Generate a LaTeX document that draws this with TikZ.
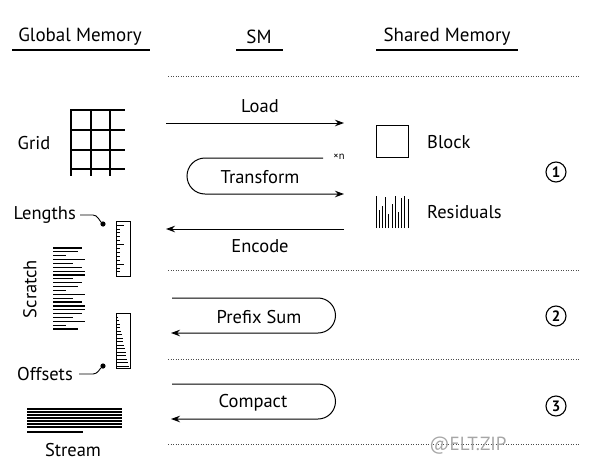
\documentclass[tikz,border=0pt]{standalone}
\usepackage{fontspec}
\setmainfont{PT Sans}
\usetikzlibrary{arrows.meta}
\tikzset{
  lbl/.style={inner sep=0pt, font=\fontsize{18.5}{21}\selectfont},
  hdr/.style={inner sep=0pt, font=\fontsize{19}{22}\selectfont},
  uline/.style={line width=1.3pt},
  flow/.style={line width=1pt, -{Stealth[length=9pt,width=6.5pt]}},
  sep/.style={line width=0.8pt, dash pattern=on 0.8pt off 1.7pt, black!70},
  stepnum/.style={circle, draw, line width=1.1pt, minimum size=20pt, inner sep=0pt, font=\bfseries\fontsize{15}{15}\selectfont},
  bar/.style={line width=1pt},
  tick/.style={line width=0.7pt},
}
\begin{document}
\begin{tikzpicture}[x=1pt,y=-1pt]
\useasboundingbox (0,0) rectangle (595,461);
% headers
\node[hdr] (hgm) at (80,37) {Global Memory};
\node[hdr] (hsm) at (259,37) {SM};
\node[hdr] (hsh) at (447,37) {Shared Memory};
\draw[uline] (12,50) -- (150,50);
\draw[uline] (236,50) -- (283,50);
\draw[uline] (376,50) -- (518,50);
% separators
\draw[sep] (168,76) -- (580,76);
\draw[sep] (168,270) -- (580,270);
\draw[sep] (168,359) -- (580,359);
\draw[sep] (168,444) -- (580,444);
% grid
\node[lbl] (grid) at (34,143) {Grid};
\draw[line width=1.6pt] (71,109) -- (71,176);
\draw[line width=1.2pt] (91,109) -- (91,176) (110,109) -- (110,176);
\foreach \y in {110,130,150,169} \draw[line width=1.2pt] (71,\y) -- (125,\y);
% Lengths ruler
\node[lbl, anchor=east] (len) at (76,215) {Lengths};
\coordinate (lendot) at (103,224);
\draw[line width=0.9pt] (len.east) ++(4,0) -- (93,215) .. controls (98,215) and (99,221) .. (lendot);
\fill (lendot) circle (2.6);
\draw[line width=1pt] (116,221) rectangle (130,276);
\foreach \i in {0,...,12} {
  \pgfmathsetmacro{\yy}{225+\i*3.9}
  \pgfmathsetmacro{\ll}{ifthenelse(mod(\i,5)==0,7.5,4)}
  \draw[tick] (116,\yy) -- ++(\ll,0);
}
% Scratch
\node[lbl, rotate=90] (scr) at (30,289) {Scratch};
\foreach \e [count=\i from 0] in {82,78,66,85,73,82,85,85,73,82,78,66,85,73,82,85,85,82,73,85,66,78} {
  \pgfmathsetmacro{\yy}{248+\i*3.86}
  \draw[line width=1.2pt] (53,\yy) -- (\e,\yy);
}
% Offsets ruler
\node[lbl, anchor=east] (off) at (73,374) {Offsets};
\coordinate (offdot) at (103,366);
\draw[line width=0.9pt] (off.east) ++(6,0) -- (93,374) .. controls (98,374) and (99,369) .. (offdot);
\fill (offdot) circle (2.6);
\draw[line width=1pt] (116,313) rectangle (130,368);
\foreach \i in {0,...,14} {
  \pgfmathsetmacro{\yy}{317+\i*3.5}
  \pgfmathsetmacro{\ll}{2+\i*0.75}
  \draw[tick] (116,\yy) -- ++(\ll,0);
}
% Stream
\foreach \y in {409,412,415,418,421,424,427} \draw[line width=1.1pt] (27,\y) -- (122,\y);
\draw[line width=1.1pt] (27,432) -- (83,432);
\node[lbl, anchor=base] (stream) at (73,456) {Stream};
% Shared memory items
\draw[line width=1pt] (376,125) rectangle (408,157);
\node[lbl, anchor=west] (block) at (427,142) {Block};
\foreach \t [count=\i from 0] in {196,210,206,197,214,204,196,212,198,196,199} {
  \pgfmathsetmacro{\xx}{376+\i*3.2}
  \draw[bar] (\xx,228) -- (\xx,\t);
}
\node[lbl, anchor=west] (resid) at (427,212) {Residuals};
% SM flows
\coordinate (loadS) at (166,123);
\coordinate (loadE) at (344,123);
\draw[flow] (loadS) -- (loadE);
\node[lbl] (load) at (260,106) {Load};
\coordinate (trS) at (323,158);
\coordinate (trE) at (344,194);
\draw[flow] (trS) -- (205,158) arc[start angle=-90, end angle=-270, radius=18] -- (trE);
\node[inner sep=0pt, font=\fontsize{10.5}{11}\selectfont] (xn) at (339,157) {×n};
\node[lbl] (transform) at (260,177) {Transform};
\coordinate (encS) at (344,229);
\coordinate (encE) at (166,229);
\draw[flow] (encS) -- (encE);
\node[lbl] (encode) at (260,246) {Encode};
\coordinate (psS) at (172,298);
\coordinate (psE) at (171,333);
\draw[flow] (psS) -- (318,298) arc[start angle=-90, end angle=90, radius=17.5] -- (psE);
\node[lbl] (prefix) at (259,317) {Prefix Sum};
\coordinate (cpS) at (172,384);
\coordinate (cpE) at (171,419);
\draw[flow] (cpS) -- (318,384) arc[start angle=-90, end angle=90, radius=17.5] -- (cpE);
\node[lbl] (compact) at (253,403) {Compact};
% step numbers
\node[stepnum] (s1) at (556,172) {1};
\node[stepnum] (s2) at (556,316) {2};
\node[stepnum] (s3) at (556,406) {3};
% watermark
\node[lbl, text=black!35, font=\fontsize{19}{21}\selectfont] (wm) at (468,446) {@ELT.ZIP};
\end{tikzpicture}
\end{document}
